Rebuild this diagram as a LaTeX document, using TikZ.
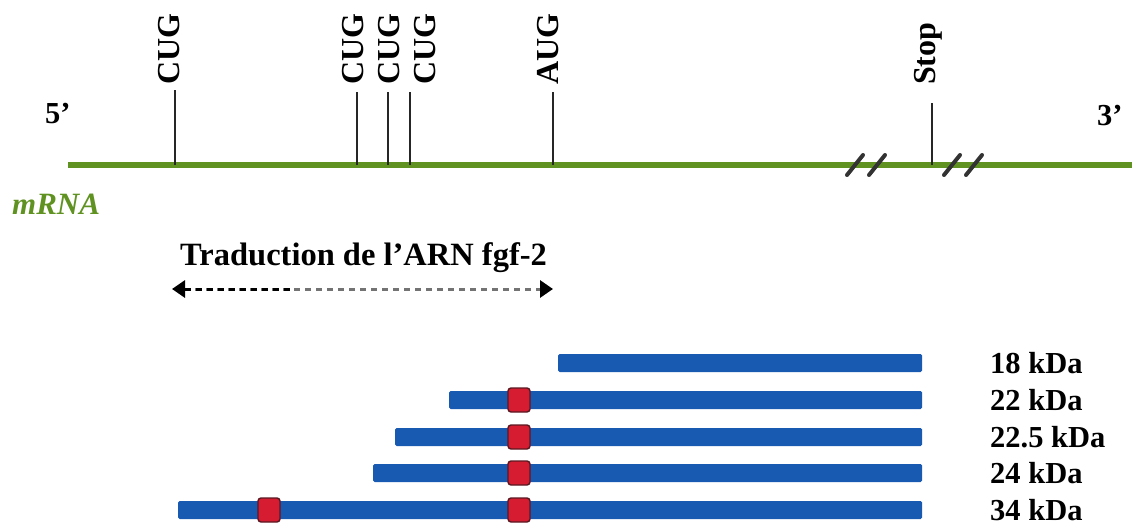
\documentclass[tikz,border=0pt]{standalone}
\usepackage{fontspec}
\setmainfont{Liberation Serif}
\usetikzlibrary{arrows.meta}
\definecolor{rnagreen}{RGB}{96,146,34}
\definecolor{protblue}{RGB}{24,90,178}
\definecolor{sitered}{RGB}{214,28,48}
\definecolor{siteedge}{RGB}{90,24,34}
\tikzset{
  lbl/.style={inner sep=0pt, font=\fontsize{30.5}{30.5}\selectfont\bfseries},
  codon/.style={inner sep=0pt, font=\fontsize{32}{32}\selectfont\bfseries, rotate=90, anchor=west},
  tick/.style={line width=2.8pt, black!85},
  cut/.style={line width=4pt, black!80, line cap=round},
  bar/.style={fill=protblue, draw=none, minimum height=18pt, inner sep=0pt, rounded corners=1.5pt, anchor=west},
  site/.style={fill=sitered, draw=siteedge, line width=1.4pt, minimum width=22pt, minimum height=24pt, inner sep=0pt, rounded corners=3pt},
  kda/.style={lbl, anchor=west},
  bigtip/.tip={Triangle[length=13pt,width=17pt,black]},
}
\begin{document}
\begin{tikzpicture}[x=1pt, y=-1pt]
\useasboundingbox (0,0) rectangle (1132,527);

% mRNA strand
\coordinate (r5) at (68,165);
\coordinate (r3) at (1132,165);
\draw[rnagreen, line width=6.5pt] (r5) -- (r3);
\node[lbl, anchor=base west] (p5) at (45,123) {5’};
\node[lbl, anchor=base west] (p3) at (1097,125) {3’};
\node[lbl, anchor=base west, text=rnagreen, font=\fontsize{31}{31}\selectfont\bfseries\itshape] (mrna) at (12,214) {mRNA};

% initiation codons and stop
\foreach \n/\x/\top/\tx/\txt in {c1/175/90/169/CUG, c2/357/92/353/CUG, c3/388/92/389/CUG, c4/410/92/425/CUG, a1/553/92/548/AUG}{
  \coordinate (\n b) at (\x,165);
  \coordinate (\n t) at (\x,\top);
  \draw[tick] (\n b) -- (\n t);
  \node[codon] (\n l) at (\tx,85) {\txt};
}
\coordinate (sb) at (932,165);
\coordinate (st) at (932,103);
\draw[tick] (sb) -- (st);
\node[codon] (sl) at (928,85) {Stop};

% breaks in the strand
\foreach \cx in {855,877,952,974}{
  \draw[cut] (\cx-8,175) -- (\cx+8,155);
}

% translated region
\node[lbl, anchor=base west, font=\fontsize{32.5}{32.5}\selectfont\bfseries] (trad) at (180,265) {Traduction de l’ARN fgf-2};
\coordinate (aL) at (172,289);
\coordinate (aR) at (553,289);
\coordinate (aM) at (290,289);
\draw[black!55, line width=3pt, dash pattern=on 6pt off 5pt, {bigtip}-{bigtip}] (aL) -- (aR);
\draw[black, line width=3pt, dash pattern=on 6pt off 5pt, shorten <=13pt] (aL) -- (aM);

% protein isoforms
\node[bar, minimum width=364pt] (b18) at (558,363) {};
\node[bar, minimum width=473pt] (b22) at (449,400) {};
\node[bar, minimum width=527pt] (b225) at (395,437) {};
\node[bar, minimum width=549pt] (b24) at (373,473) {};
\node[bar, minimum width=744pt] (b34) at (178,510) {};

\node[site] (s22) at (519,400) {};
\node[site] (s225) at (519,437) {};
\node[site] (s24) at (519,473) {};
\node[site] (s34a) at (269,510) {};
\node[site] (s34b) at (519,510) {};

\node[kda] (k18) at (990,363) {18 kDa};
\node[kda] (k22) at (990,400) {22 kDa};
\node[kda] (k225) at (990,437) {22.5 kDa};
\node[kda] (k24) at (990,473) {24 kDa};
\node[kda] (k34) at (990,510) {34 kDa};
\end{tikzpicture}
\end{document}
